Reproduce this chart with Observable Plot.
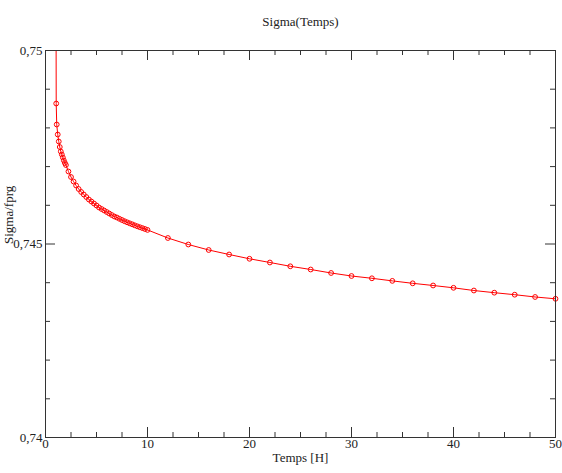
<!DOCTYPE html>
<html><head><meta charset="utf-8">
<script src="https://cdn.jsdelivr.net/npm/d3@7"></script>
<script src="https://cdn.jsdelivr.net/npm/@observablehq/plot@0.6"></script>
<style>body{margin:0;background:#fff} svg text{font-family:'Liberation Serif','Times New Roman',serif}</style>
</head><body><div id="chart"></div>
<script>
const title = "Sigma(Temps)";
const xLabel = "Temps [H]";
const yLabel = "Sigma/fprg";

// measured points (hours, sigma/fprg)
const temps = [1.05, 1.1, 1.2, 1.3, 1.4, 1.5, 1.6, 1.7, 1.8, 1.9, 2.0,
  2.25, 2.5, 2.75, 3.0, 3.25, 3.5, 3.75, 4.0, 4.25, 4.5, 4.75, 5.0,
  5.25, 5.5, 5.75, 6.0, 6.25, 6.5, 6.75, 7.0, 7.25, 7.5, 7.75, 8.0,
  8.25, 8.5, 8.75, 9.0, 9.25, 9.5, 9.75, 10.0,
  12, 14, 16, 18, 20, 22, 24, 26, 28, 30, 32, 34, 36, 38, 40, 42, 44, 46, 48, 50];
const sigma = [0.748630, 0.748088, 0.747829, 0.747649, 0.747506, 0.747390, 0.747313, 0.747235, 0.747158, 0.747093, 0.747041,
  0.746873, 0.746731, 0.746615, 0.746512, 0.746421, 0.746344, 0.746279, 0.746214, 0.746150, 0.746098, 0.746047, 0.745995,
  0.745943, 0.745904, 0.745866, 0.745827, 0.745788, 0.745749, 0.745711, 0.745685, 0.745651, 0.745620, 0.745589, 0.745561,
  0.745535, 0.745509, 0.745483, 0.745457, 0.745434, 0.745411, 0.745388, 0.745364,
  0.745155, 0.744987, 0.744845, 0.744729, 0.744618, 0.744522, 0.744424, 0.744341, 0.744251, 0.744173,
  0.744114, 0.744047, 0.743984, 0.743928, 0.743868, 0.743798, 0.743742, 0.743690, 0.743631, 0.743584];

// fitted curve start (leaves the top of the frame)
const fitStartTemps = [1.04];
const fitStartSigma = [0.7502];

const xMajor = [0, 10, 20, 30, 40, 50];
const xTickLabels = ["0", "10", "20", "30", "40", "50"];
const xMinor = [2.5, 5, 7.5, 12.5, 15, 17.5, 22.5, 25, 27.5, 32.5, 35, 37.5, 42.5, 45, 47.5];
const yMajor = [0.74, 0.745, 0.75];
const yTickLabels = ["0,74", "0,745", "0,75"];
const yMinor = [0.741, 0.742, 0.743, 0.744, 0.746, 0.747, 0.748, 0.749];

const W = 562, H = 473, mL = 45, mR = 7, mT = 50, mB = 36;
const fw = W - mL - mR, fh = H - mT - mB;
const axisColor = "#333";
const serif = "Liberation Serif";

const points = temps.map((t, i) => ({t, s: sigma[i]}));
const fit = fitStartTemps.map((t, i) => ({t, s: fitStartSigma[i]})).concat(points);

const chart = Plot.plot({
  width: W, height: H,
  marginLeft: mL, marginRight: mR, marginTop: mT, marginBottom: mB,
  style: {fontFamily: "'Liberation Serif', 'Times New Roman', serif", fontSize: "12px", background: "#fff"},
  x: {domain: [0, 50], axis: null},
  y: {domain: [0.74, 0.75], axis: null},
  marks: [
    Plot.line(fit, {x: "t", y: "s", stroke: "#f00", strokeWidth: 1, clip: true}),
    Plot.dot(points, {x: "t", y: "s", r: 2.4, stroke: "#f00", fill: "none", strokeWidth: 1}),
    Plot.frame({stroke: axisColor, strokeWidth: 1}),
    // inward ticks
    Plot.tickX(xMajor, {x: d => d, insetTop: fh - 10, stroke: axisColor}),
    Plot.tickX(xMajor, {x: d => d, insetBottom: fh - 10, stroke: axisColor}),
    Plot.tickX(xMinor, {x: d => d, insetTop: fh - 5, stroke: axisColor}),
    Plot.tickX(xMinor, {x: d => d, insetBottom: fh - 5, stroke: axisColor}),
    Plot.tickY(yMajor, {y: d => d, insetRight: fw - 10, stroke: axisColor}),
    Plot.tickY(yMajor, {y: d => d, insetLeft: fw - 10, stroke: axisColor}),
    Plot.tickY(yMinor, {y: d => d, insetRight: fw - 5, stroke: axisColor}),
    Plot.tickY(yMinor, {y: d => d, insetLeft: fw - 5, stroke: axisColor}),
    // tick labels
    Plot.text(xMajor, {x: d => d, frameAnchor: "bottom", dy: 10, text: (d, i) => xTickLabels[i], fontFamily: serif, fontSize: 13, fill: "#222"}),
    Plot.text(yMajor, {y: d => d, frameAnchor: "left", dx: -3, textAnchor: "end", text: (d, i) => yTickLabels[i], fontFamily: serif, fontSize: 13, fill: "#222"}),
    // titles
    Plot.text([title], {frameAnchor: "top", dy: -34, fontFamily: serif, fontSize: 13, fill: "#222"}),
    Plot.text([xLabel], {frameAnchor: "bottom", dy: 24, fontFamily: serif, fontSize: 13, fill: "#222"}),
    Plot.text([yLabel], {frameAnchor: "left", dx: -37, rotate: -90, fontFamily: serif, fontSize: 13, fill: "#222"})
  ]
});
document.getElementById("chart").appendChild(chart);
</script>
</body></html>
